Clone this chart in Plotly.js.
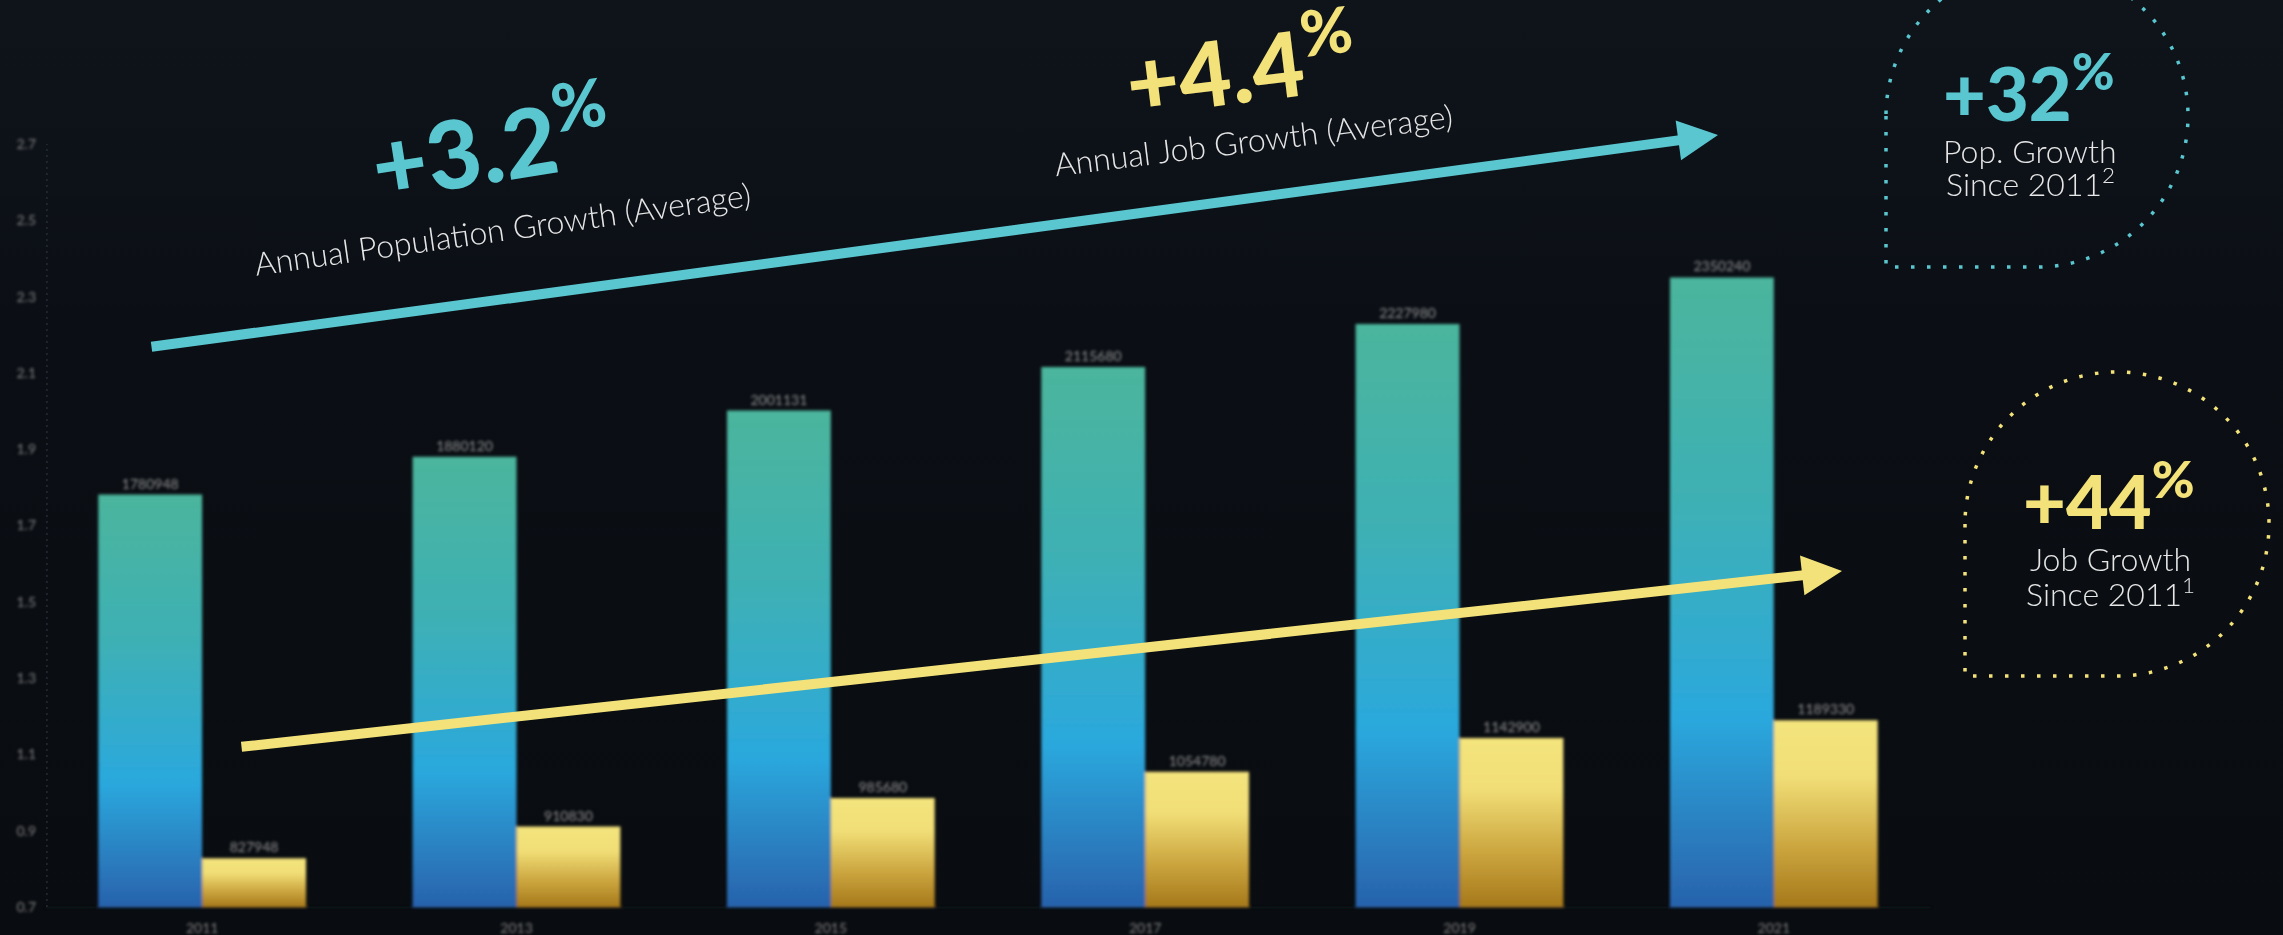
<!DOCTYPE html>
<html><head><meta charset="utf-8">
<script src="https://cdn.plot.ly/plotly-3.0.1.min.js"></script>
<style>
html,body{margin:0;padding:0;width:2283px;height:935px;overflow:hidden;background:linear-gradient(to bottom,#0f141b 0%,#0b0f15 35%,#090c10 100%);}
#chart{width:2283px;height:935px;}
</style></head><body><div id="chart"></div>
<script>
// ---- data ----
const years = ['2011', '2013', '2015', '2017', '2019', '2021'];
const population = [1780948, 1880120, 2001131, 2115680, 2227980, 2350240];
const jobs = [827948, 910830, 985680, 1054780, 1142900, 1189330];
const yTickValues = [700000, 900000, 1100000, 1300000, 1500000, 1700000, 1900000, 2100000, 2300000, 2500000, 2700000];
const yTickLabels = ['0.7', '0.9', '1.1', '1.3', '1.5', '1.7', '1.9', '2.1', '2.3', '2.5', '2.7'];
const popGrowthAvg = '+3.2';
const jobGrowthAvg = '+4.4';
const popGrowthTotal = '+32';
const jobGrowthTotal = '+44';

// ---- layout helpers (pixel -> paper) ----
const W = 2283, H = 935;
const M = {l: 45, r: 352, t: 144, b: 28};
const PW = W - M.l - M.r, PH = H - M.t - M.b;
const px = x => (x - M.l) / PW;
const py = y => (H - M.b - y) / PH;

const TEAL = '#5ac6cf', YELLOW = '#f3e27a';

function dropPath(cx, cy, r) {
  const k = 0.5523 * r;
  const P = (x, y) => px(x).toFixed(5) + ',' + py(y).toFixed(5);
  return 'M' + P(cx - r, cy) + ' L' + P(cx - r, cy + r) + ' L' + P(cx, cy + r) +
    ' C' + P(cx + k, cy + r) + ' ' + P(cx + r, cy + k) + ' ' + P(cx + r, cy) +
    ' C' + P(cx + r, cy - k) + ' ' + P(cx + k, cy - r) + ' ' + P(cx, cy - r) +
    ' C' + P(cx - k, cy - r) + ' ' + P(cx - r, cy - k) + ' ' + P(cx - r, cy) + ' Z';
}

const data = [
  {type: 'bar', x: years, y: population, name: 'Population',
   text: population.map(String), textposition: 'outside', cliponaxis: false,
   textfont: {family: 'Lato', size: 14, color: '#909090'},
   marker: {color: '#2ea6d6', line: {width: 0}}},
  {type: 'bar', x: years, y: jobs, name: 'Jobs',
   text: jobs.map(String), textposition: 'outside', cliponaxis: false,
   textfont: {family: 'Lato', size: 14, color: '#909090'},
   marker: {color: '#e9d26a', line: {width: 0}}}
];

const annText = (text, x, y, size, color, weight, angle) => ({
  text, xref: 'paper', yref: 'paper', x: px(x), y: py(y), xanchor: 'center', yanchor: 'middle',
  showarrow: false, textangle: angle || 0,
  font: {family: 'Lato', size, color, weight}
});

const layout = {
  width: W, height: H,
  paper_bgcolor: 'rgba(0,0,0,0)', plot_bgcolor: 'rgba(0,0,0,0)',
  margin: M, showlegend: false,
  barmode: 'group', bargap: 0.339, bargroupgap: 0,
  font: {family: 'Lato', color: '#808080'},
  xaxis: {type: 'category', range: [-0.5, 5.5], showgrid: false, zeroline: false,
    showline: true, linecolor: '#161b22', linewidth: 1, ticks: '', ticklabelstandoff: 8,
    tickfont: {family: 'Lato', size: 14, color: '#808080'}},
  yaxis: {range: [700000, 2700000], tickvals: yTickValues, ticktext: yTickLabels,
    showgrid: false, zeroline: false, showline: false, ticks: '', ticklabelstandoff: 8,
    tickfont: {family: 'Lato', size: 14, color: '#808080'}},
  shapes: [
    {type: 'line', xref: 'paper', yref: 'paper', x0: 0.001, x1: 0.001, y0: 0, y1: 1,
     line: {color: '#262c34', width: 1.5, dash: '2px,4px'}},
    {type: 'path', xref: 'paper', yref: 'paper', path: dropPath(2037, 116, 151),
     line: {color: TEAL, width: 3.5, dash: '3.5px,12.5px'}},
    {type: 'path', xref: 'paper', yref: 'paper', path: dropPath(2117, 524, 152),
     line: {color: YELLOW, width: 3.5, dash: '3.5px,12.5px'}}
  ],
  annotations: [
    // arrows
    {text: '', xref: 'paper', yref: 'paper', x: px(1718), y: py(135), ax: 150 - 1718, ay: 347 - 135,
     showarrow: true, arrowhead: 2, arrowsize: 0.8, arrowwidth: 10, arrowcolor: TEAL, standoff: 0},
    {text: '', xref: 'paper', yref: 'paper', x: px(1842), y: py(571), ax: 240 - 1842, ay: 747 - 571,
     showarrow: true, arrowhead: 2, arrowsize: 0.8, arrowwidth: 10, arrowcolor: YELLOW, standoff: 0},
    // average growth texts
    annText(popGrowthAvg + '<sup>%</sup>', 490, 140, 94, TEAL, 900, -9),
    annText('Annual Population Growth (Average)', 502, 228, 32, '#e6e6e6', 300, -8),
    annText(jobGrowthAvg + '<sup>%</sup>', 1240, 62, 90, YELLOW, 900, -7),
    annText('Annual Job Growth (Average)', 1253, 139, 32, '#e6e6e6', 300, -7),
    // circles
    annText(popGrowthTotal + '<sup>%</sup>', 2029, 88, 74, TEAL, 900, 0),
    annText('Pop. Growth', 2030, 150, 32, '#e6e6e6', 300, 0),
    annText('Since 2011<sup>2</sup>', 2030, 182, 32, '#e6e6e6', 300, 0),
    annText(jobGrowthTotal + '<sup>%</sup>', 2109, 496, 74, YELLOW, 900, 0),
    annText('Job Growth', 2110, 558, 32, '#e6e6e6', 300, 0),
    annText('Since 2011<sup>1</sup>', 2110, 592, 32, '#e6e6e6', 300, 0)
  ]
};

Plotly.newPlot('chart', data, layout, {staticPlot: true, displayModeBar: false}).then(gd => {
  const ns = 'http://www.w3.org/2000/svg';
  const svg = gd.querySelector('.main-svg');
  let defs = svg.querySelector('defs');
  if (!defs) { defs = document.createElementNS(ns, 'defs'); svg.insertBefore(defs, svg.firstChild); }
  const plotBottom = gd._fullLayout._size.h;
  let gid = 0;
  function grad(y1, y2, stops) {
    const id = 'barGrad' + (gid++);
    const g = document.createElementNS(ns, 'linearGradient');
    g.setAttribute('id', id);
    g.setAttribute('gradientUnits', 'userSpaceOnUse');
    g.setAttribute('x1', '0'); g.setAttribute('y1', y1); g.setAttribute('x2', '0'); g.setAttribute('y2', y2);
    stops.forEach(([o, c]) => {
      const s = document.createElementNS(ns, 'stop');
      s.setAttribute('offset', o); s.setAttribute('stop-color', c);
      g.appendChild(s);
    });
    defs.appendChild(g);
    return 'url(#' + id + ')';
  }
  const popStops = [[0, '#4bb59c'], [0.35, '#3eb0b4'], [0.7, '#2aa8dd'], [1, '#2862ac']];
  const jobStops = [[0, '#f4e47c'], [0.3, '#f1de76'], [0.7, '#c9a23c'], [1, '#a5781a']];
  const traces = gd.querySelectorAll('.barlayer .trace');
  [popStops, jobStops].forEach((stops, i) => {
    traces[i].querySelectorAll('.point path').forEach(p => {
      const bb = p.getBBox();
      p.style.fill = grad(bb.y, plotBottom, stops);
    });
  });
  const f = document.createElementNS(ns, 'filter');
  f.setAttribute('id', 'softBlur');
  f.setAttribute('x', '-5%'); f.setAttribute('y', '-5%'); f.setAttribute('width', '110%'); f.setAttribute('height', '110%');
  const b = document.createElementNS(ns, 'feGaussianBlur');
  b.setAttribute('stdDeviation', '1.6');
  f.appendChild(b); defs.appendChild(f);
  gd.querySelector('.cartesianlayer').setAttribute('filter', 'url(#softBlur)');
});
</script></body></html>
